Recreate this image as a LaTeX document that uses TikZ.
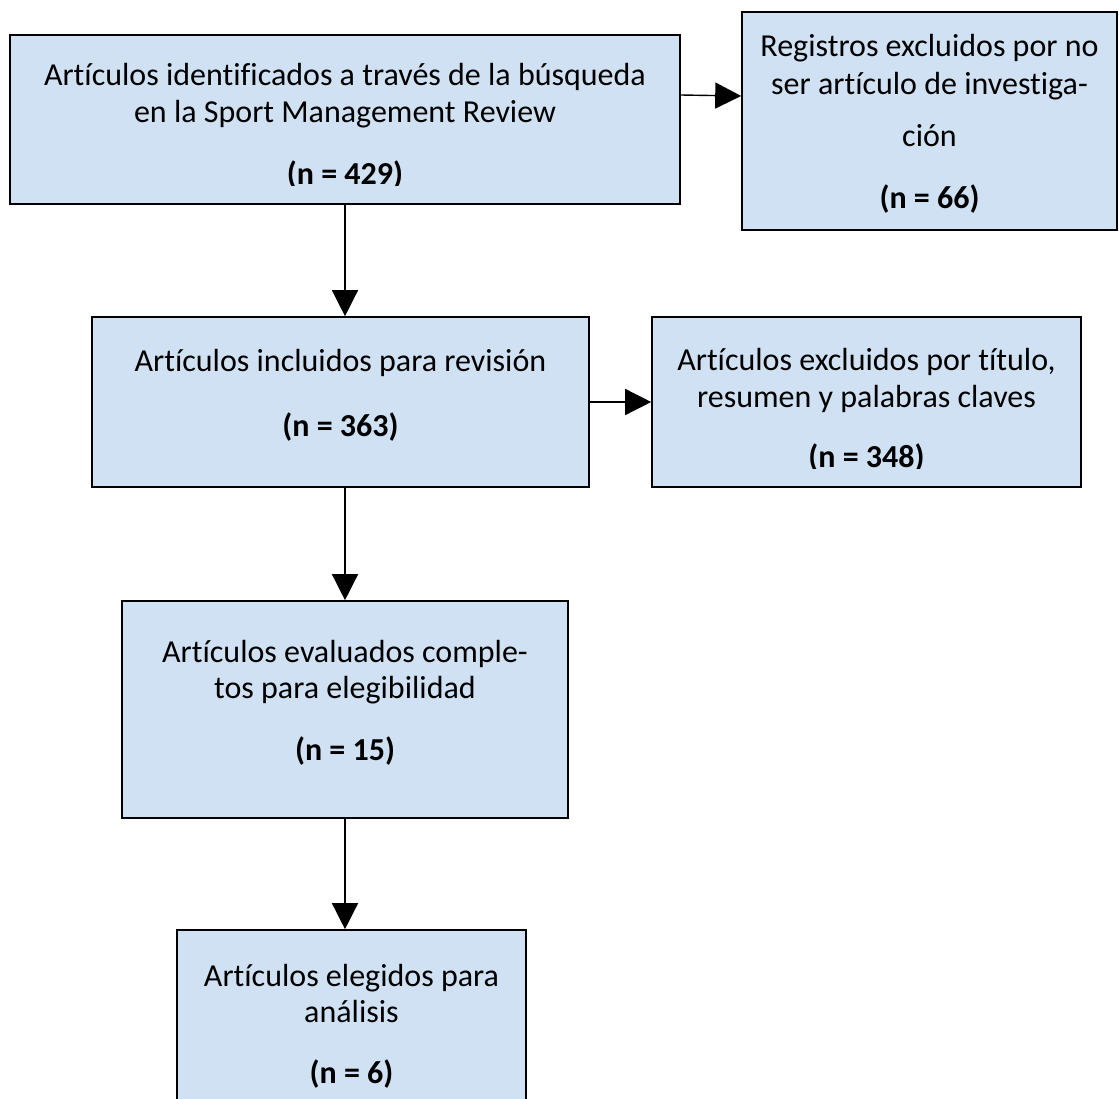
\documentclass[tikz,border=0pt]{standalone}
\usepackage{fontspec}
\setmainfont{Carlito}[Ligatures={NoCommon,NoContextual}]
\usetikzlibrary{arrows.meta}
\definecolor{boxfill}{RGB}{207,225,242}
\begin{document}
\begin{tikzpicture}[x=1pt,y=-1pt,
  flowbox/.style={draw=black, line width=1.6pt, fill=boxfill, rectangle, inner sep=0pt},
  txt/.style={anchor=base, inner sep=0pt, font=\fontsize{32}{38}\selectfont},
  num/.style={anchor=base, inner sep=0pt, font=\fontsize{32}{38}\selectfont\bfseries},
  arr/.style={line width=1.4pt, -{Triangle[length=26pt,width=26pt]}}]
\useasboundingbox (0,0) rectangle (1119,1099);
\clip (0,0) rectangle (1119,1099);

% boxes
\node[flowbox, minimum width=670pt, minimum height=169pt] (A) at (345,119.5) {};
\node[flowbox, minimum width=375pt, minimum height=218pt] (B) at (929.5,121) {};
\node[flowbox, minimum width=497pt, minimum height=170pt] (C) at (340.5,402) {};
\node[flowbox, minimum width=429pt, minimum height=170pt] (D) at (866.5,402) {};
\node[flowbox, minimum width=446pt, minimum height=217pt] (E) at (345,709.5) {};
\node[flowbox, minimum width=349pt, minimum height=185pt] (F) at (351.5,1022.5) {};

% texts of A
\node[txt] (a1) at (345,86) {Artículos identificados a través de la búsqueda};
\node[txt] (a2) at (345,123) {en la Sport Management Review};
\begin{scope}
\clip (10,35) rectangle (680,186);
\node[num] (a3) at (345,185) {(n = 429)};
\end{scope}

% texts of B
\node[txt] (b1) at (929.5,57) {Registros excluidos por no};
\node[txt] (b2) at (929.5,95) {ser artículo de investiga-};
\node[txt] (b3) at (929.5,147) {ción};
\node[num] (b4) at (929.5,209) {(n = 66)};

% texts of C
\node[txt] (c1) at (340.5,371) {Artículos incluidos para revisión};
\node[num] (c2) at (340.5,436) {(n = 363)};

% texts of D
\node[txt] (d1) at (866.5,370) {Artículos excluidos por título,};
\node[txt] (d2) at (866.5,407) {resumen y palabras claves};
\begin{scope}
\clip (652,317) rectangle (1081,468);
\node[num] (d3) at (866.5,467) {(n = 348)};
\end{scope}

% texts of E
\node[txt] (e1) at (345,662) {Artículos evaluados comple-};
\node[txt] (e2) at (345,698) {tos para elegibilidad};
\node[num] (e3) at (345,760) {(n = 15)};

% texts of F
\node[txt] (f1) at (351.5,986) {Artículos elegidos para};
\node[txt] (f2) at (351.5,1022) {análisis};
\node[num] (f3) at (351.5,1083) {(n = 6)};

% connectors
\draw[arr] ([yshift=24.5pt]A.east) -- ([yshift=25pt]B.west);
\draw[arr] (C.east) -- (D.west);
\draw[arr] (A.south) -- (A.south |- C.north);
\draw[arr] (A.south |- C.south) -- (A.south |- E.north);
\draw[arr] (E.south) -- (E.south |- F.north);
\end{tikzpicture}
\end{document}
